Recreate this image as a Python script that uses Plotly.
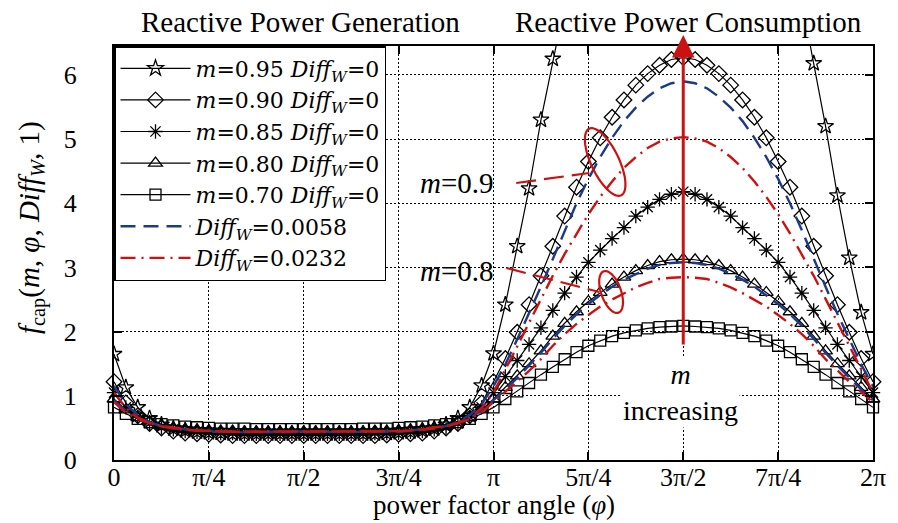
import numpy as np
import plotly.graph_objects as go

PI = np.pi
# sampling grid of the power factor angle (65 points, step pi/32)
phi = np.linspace(0, 2 * PI, 65)

# f_cap values, Diff_W = 0
f_m095 = [1.65, 1.13, 0.82, 0.65, 0.55, 0.49, 0.46, 0.44, 0.43, 0.42, 0.41, 0.41, 0.41, 0.41, 0.41, 0.41, 0.41,
          0.41, 0.41, 0.41, 0.41, 0.41, 0.41, 0.42, 0.43, 0.44, 0.46, 0.49, 0.55, 0.65, 0.82, 1.16, 1.66,
          2.42, 3.33, 4.23, 5.30, 6.25, 7.20, 8.10, 9.00, 9.80, 10.50, 11.10, 11.60, 12.00, 12.30, 12.45, 12.50,
          12.40, 12.20, 11.90, 11.50, 11.00, 10.40, 9.70, 8.90, 8.00, 7.15, 6.18, 5.20, 4.12, 3.15, 2.30, 1.65]
f_m090 = [1.22, 0.89, 0.69, 0.57, 0.50, 0.45, 0.42, 0.41, 0.40, 0.39, 0.38, 0.38, 0.38, 0.38, 0.38, 0.38, 0.38,
          0.38, 0.38, 0.38, 0.38, 0.38, 0.38, 0.39, 0.40, 0.41, 0.42, 0.45, 0.50, 0.57, 0.69, 0.89, 1.22,
          1.58, 1.99, 2.42, 2.87, 3.33, 3.80, 4.25, 4.65, 5.02, 5.34, 5.61, 5.84, 6.02, 6.15, 6.24, 6.27,
          6.24, 6.15, 6.02, 5.84, 5.61, 5.34, 5.02, 4.65, 4.25, 3.80, 3.33, 2.87, 2.42, 1.99, 1.58, 1.22]
f_m085 = [1.05, 0.82, 0.67, 0.57, 0.51, 0.48, 0.45, 0.44, 0.43, 0.42, 0.42, 0.41, 0.41, 0.41, 0.41, 0.41, 0.41,
          0.41, 0.41, 0.41, 0.41, 0.41, 0.42, 0.42, 0.43, 0.44, 0.45, 0.48, 0.51, 0.57, 0.67, 0.82, 1.05,
          1.30, 1.55, 1.80, 2.06, 2.33, 2.60, 2.85, 3.08, 3.27, 3.45, 3.62, 3.80, 3.94, 4.06, 4.14, 4.18,
          4.14, 4.06, 3.94, 3.80, 3.62, 3.45, 3.27, 3.08, 2.85, 2.60, 2.33, 2.06, 1.80, 1.55, 1.30, 1.05]
f_m080 = [0.95, 0.78, 0.66, 0.59, 0.54, 0.50, 0.48, 0.47, 0.46, 0.45, 0.45, 0.44, 0.44, 0.44, 0.44, 0.44, 0.44,
          0.44, 0.44, 0.44, 0.44, 0.44, 0.45, 0.45, 0.46, 0.47, 0.48, 0.50, 0.54, 0.59, 0.66, 0.78, 0.95,
          1.13, 1.31, 1.50, 1.70, 1.93, 2.13, 2.31, 2.47, 2.61, 2.74, 2.85, 2.95, 3.03, 3.09, 3.12, 3.13,
          3.12, 3.09, 3.03, 2.95, 2.85, 2.74, 2.61, 2.47, 2.31, 2.13, 1.93, 1.70, 1.50, 1.31, 1.13, 0.95]
f_m070 = [0.82, 0.72, 0.64, 0.59, 0.56, 0.54, 0.52, 0.51, 0.50, 0.49, 0.49, 0.49, 0.48, 0.48, 0.48, 0.48, 0.48,
          0.48, 0.48, 0.48, 0.48, 0.49, 0.49, 0.49, 0.50, 0.51, 0.52, 0.54, 0.56, 0.59, 0.64, 0.72, 0.82,
          0.95, 1.07, 1.20, 1.33, 1.45, 1.57, 1.68, 1.78, 1.86, 1.93, 1.98, 2.02, 2.05, 2.07, 2.08, 2.09,
          2.08, 2.07, 2.05, 2.02, 1.98, 1.93, 1.86, 1.78, 1.68, 1.57, 1.45, 1.33, 1.20, 1.07, 0.95, 0.82]

# Diff_W = 0.0058 (blue dashed), for m = 0.9 and m = 0.8
f_d0058_m090 = [1.15, 0.87, 0.70, 0.59, 0.53, 0.49, 0.47, 0.45, 0.44, 0.44, 0.43, 0.43, 0.43, 0.43, 0.43, 0.43, 0.43,
                0.43, 0.43, 0.43, 0.43, 0.43, 0.43, 0.44, 0.44, 0.45, 0.47, 0.49, 0.53, 0.59, 0.70, 0.87, 1.15,
                1.49, 1.88, 2.28, 2.70, 3.13, 3.58, 4.00, 4.38, 4.72, 5.02, 5.28, 5.49, 5.66, 5.79, 5.87, 5.90,
                5.87, 5.79, 5.66, 5.49, 5.28, 5.02, 4.72, 4.38, 4.00, 3.58, 3.13, 2.70, 2.28, 1.88, 1.49, 1.15]
f_d0058_m080 = [0.93, 0.77, 0.66, 0.58, 0.53, 0.50, 0.48, 0.46, 0.45, 0.45, 0.44, 0.44, 0.44, 0.44, 0.44, 0.44, 0.44,
                0.44, 0.44, 0.44, 0.44, 0.44, 0.44, 0.45, 0.45, 0.46, 0.48, 0.50, 0.53, 0.58, 0.66, 0.77, 0.93,
                1.10, 1.28, 1.47, 1.67, 1.89, 2.09, 2.27, 2.43, 2.57, 2.70, 2.81, 2.90, 2.98, 3.04, 3.07, 3.08,
                3.07, 3.04, 2.98, 2.90, 2.81, 2.70, 2.57, 2.43, 2.27, 2.09, 1.89, 1.67, 1.47, 1.28, 1.10, 0.93]
# Diff_W = 0.0232 (red dash-dot), for m = 0.9 and m = 0.8
f_d0232_m090 = [1.05, 0.81, 0.66, 0.58, 0.52, 0.49, 0.47, 0.46, 0.45, 0.44, 0.44, 0.44, 0.44, 0.44, 0.44, 0.44, 0.44,
                0.44, 0.44, 0.44, 0.44, 0.44, 0.44, 0.44, 0.45, 0.46, 0.47, 0.49, 0.52, 0.58, 0.66, 0.81, 1.05,
                1.40, 1.77, 2.14, 2.51, 2.87, 3.21, 3.53, 3.83, 4.10, 4.34, 4.55, 4.72, 4.86, 4.96, 5.01, 5.03,
                5.01, 4.96, 4.86, 4.72, 4.55, 4.34, 4.10, 3.83, 3.53, 3.21, 2.87, 2.51, 2.14, 1.77, 1.40, 1.05]
f_d0232_m080 = [0.90, 0.74, 0.64, 0.57, 0.53, 0.50, 0.48, 0.46, 0.45, 0.45, 0.44, 0.44, 0.44, 0.44, 0.44, 0.44, 0.44,
                0.44, 0.44, 0.44, 0.44, 0.44, 0.44, 0.45, 0.45, 0.46, 0.48, 0.50, 0.53, 0.57, 0.64, 0.74, 0.90,
                1.06, 1.22, 1.39, 1.57, 1.78, 1.96, 2.12, 2.26, 2.39, 2.50, 2.60, 2.69, 2.76, 2.82, 2.84, 2.85,
                2.84, 2.82, 2.76, 2.69, 2.60, 2.50, 2.39, 2.26, 2.12, 1.96, 1.78, 1.57, 1.39, 1.22, 1.06, 0.90]

tick_vals = [0, PI / 4, PI / 2, 3 * PI / 4, PI, 5 * PI / 4, 3 * PI / 2, 7 * PI / 4, 2 * PI]
tick_text = ["0", "π/4", "π/2", "3π/4", "π", "5π/4", "3π/2", "7π/4", "2π"]

FONT = "Liberation Serif"
LEGFONT = "DejaVu Serif"
RED = "#cc1111"
BLUE = "#1c3a86"
W, H = 898, 523
ML, MR, MT, MB = 114, 16, 46, 63
PW, PH = W - ML - MR, H - MT - MB
YMAX = 6.45


def px_to_paper(x, y):
    return (x - ML) / PW, (H - MB - y) / PH


def ellipse_path(cx, cy, a, b, ang):
    t = np.linspace(0, 2 * PI, 72)
    th = np.radians(ang)
    xs = cx + a * np.cos(t) * np.cos(th) - b * np.sin(t) * np.sin(th)
    ys = cy + a * np.cos(t) * np.sin(th) + b * np.sin(t) * np.cos(th)
    pts = [px_to_paper(x, y) for x, y in zip(xs, ys)]
    return "M " + " L ".join(f"{p[0]:.4f},{p[1]:.4f}" for p in pts) + " Z"


fig = go.Figure()

solid = [
    (f_m095, "star-open", 12, "0.95", False),
    (f_m090, "diamond-open", 12, "0.90", True),
    (f_m085, "asterisk-open", 12, "0.85", True),
    (f_m080, "triangle-up-open", 12, "0.80", True),
    (f_m070, "square-open", 11, "0.70", True),
]
for ys, sym, sz, lab, noclip in solid:
    fig.add_trace(go.Scatter(
        x=phi, y=ys, mode="lines+markers",
        line=dict(color="black", width=1.2),
        marker=dict(symbol=sym, size=sz, color="black", line=dict(color="black", width=1.3)),
        name=f"<i>m</i>=%s <i>Diff<sub>W</sub></i>=0" % lab,
        cliponaxis=not noclip,
    ))

for ys, show in [(f_d0058_m090, True), (f_d0058_m080, False)]:
    fig.add_trace(go.Scatter(
        x=phi, y=ys, mode="lines",
        line=dict(color=BLUE, width=2.4, dash="15px,8px"),
        name="<i>Diff<sub>W</sub></i>=0.0058", showlegend=show, legendgroup="b",
    ))
for ys, show in [(f_d0232_m090, True), (f_d0232_m080, False)]:
    fig.add_trace(go.Scatter(
        x=phi, y=ys, mode="lines",
        line=dict(color=RED, width=2.4, dash="15px,6px,2px,6px"),
        name="<i>Diff<sub>W</sub></i>=0.0232", showlegend=show, legendgroup="r",
    ))

ann = []


def txt(text, x, y, xanchor="center", size=28, **kw):
    xp, yp = px_to_paper(x, y)
    ann.append(dict(text=text, x=xp, y=yp, xref="paper", yref="paper", xanchor=xanchor,
                    yanchor="middle", showarrow=False, font=dict(family=FONT, size=size, color="black"), **kw))


txt("Reactive Power Generation", 303, 22, size=29)
txt("Reactive Power Consumption", 695, 22, size=29)
txt("<i>m</i>=0.9", 501, 183, xanchor="right", size=29)
txt("<i>m</i>=0.8", 501, 271, xanchor="right", size=29)
txt("<i>m</i><br>increasing", 687, 392, size=28, bgcolor="white", borderpad=1)
txt("power factor angle (<i>φ</i>)", 498, 505, size=27)
txt("<i>f</i><sub>cap</sub>(<i>m</i>, <i>φ</i>, <i>Diff<sub>W</sub></i>, 1)", 30, 227, size=29, textangle=-90)

# red arrow "m increasing"
ann.append(dict(x=1.5 * PI, y=(H - MB - 35) / PH * YMAX, ax=1.5 * PI, ay=(H - MB - 346) / PH * YMAX,
                xref="x", yref="y", axref="x", ayref="y", text="", showarrow=True,
                arrowhead=2, arrowsize=1.5, arrowwidth=3, arrowcolor=RED))

shapes = [
    dict(type="path", path=ellipse_path(611, 162, 37, 14, 64), xref="paper", yref="paper",
         line=dict(color=RED, width=2.2), layer="above"),
    dict(type="path", path=ellipse_path(617, 292, 22, 10, 70), xref="paper", yref="paper",
         line=dict(color=RED, width=2.2), layer="above"),
]
for (x0, y0, x1, y1) in [(521, 183, 595, 173), (511, 268, 605, 292)]:
    a0 = px_to_paper(x0, y0)
    a1 = px_to_paper(x1, y1)
    shapes.append(dict(type="line", x0=a0[0], y0=a0[1], x1=a1[0], y1=a1[1], xref="paper", yref="paper",
                       line=dict(color=RED, width=2.2, dash="20px,8px"), layer="above"))

axis_common = dict(
    showline=True, linecolor="black", linewidth=2, mirror="ticks",
    ticks="inside", ticklen=8, tickwidth=1.5, tickcolor="black",
    showgrid=True, gridcolor="black", gridwidth=1, griddash="2px,2px",
    zeroline=False, tickfont=dict(family=FONT, size=26, color="black"),
)

fig.update_layout(
    width=W, height=H,
    margin=dict(l=ML, r=MR, t=MT, b=MB),
    paper_bgcolor="white", plot_bgcolor="white",
    font=dict(family=FONT, color="black"),
    xaxis=dict(range=[0, 2 * PI], tickvals=tick_vals, ticktext=tick_text, ticklabelstandoff=-7,
               **axis_common),
    yaxis=dict(range=[0, YMAX], tickvals=[0, 1, 2, 3, 4, 5, 6], ticklabelstandoff=30, **axis_common),
    legend=dict(x=0, y=1, xanchor="left", yanchor="top", bgcolor="white",
                bordercolor="black", borderwidth=1.5, itemwidth=70,
                font=dict(family=LEGFONT, size=22, color="black"), tracegroupgap=0),
    annotations=ann, shapes=shapes, showlegend=True,
)

fig.write_html("out.html")
